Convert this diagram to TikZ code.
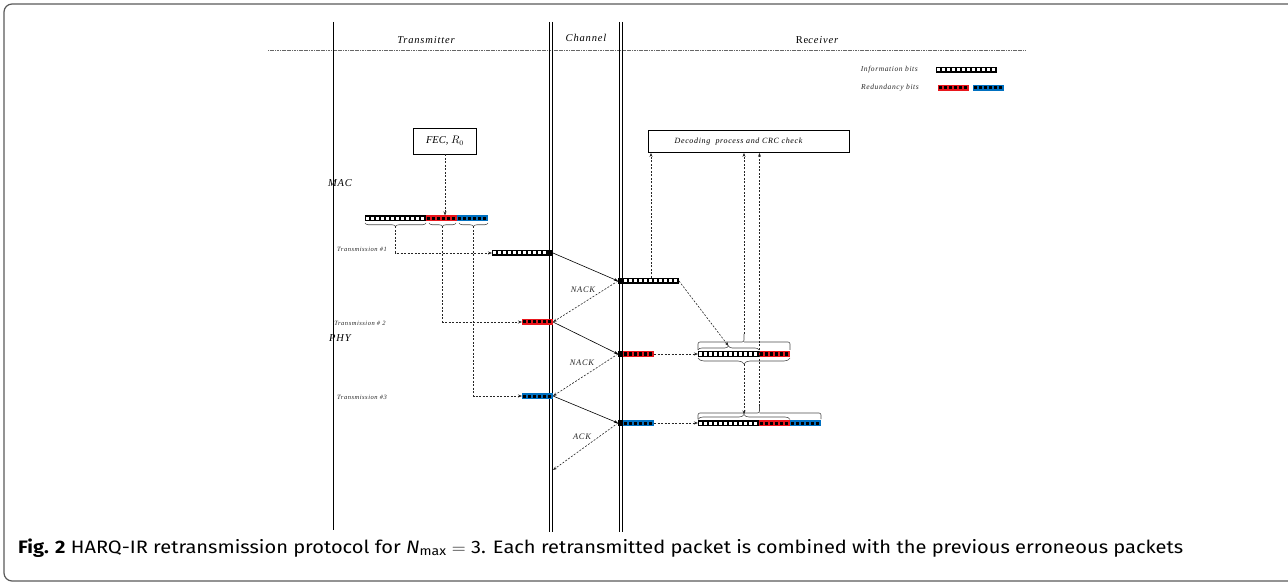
\documentclass[tikz,border=0pt]{standalone}
\usepackage{fontspec}
\setmainfont{Liberation Serif}
\newfontfamily\capfont{Fira Sans}
\newfontfamily\lblfont[LetterSpace=8]{Liberation Serif}
\usetikzlibrary{positioning, arrows.meta, decorations.pathreplacing, calc}
\definecolor{pktred}{RGB}{232,22,28}
\definecolor{pktblue}{RGB}{0,112,192}

\begin{document}
\begin{tikzpicture}[x=1pt, y=-1pt,
        bitbar/.style n args={3}{rectangle, inner sep=0pt, outer sep=0pt,
            minimum height=6pt, minimum width=#3*5pt+1pt, fill=#1,
            path picture={\foreach \k in {1,...,#3} {
                \fill[#2] ([xshift=\k*5pt-4pt, yshift=1.5pt]path picture bounding box.south west) rectangle ++(3.2pt,3pt);}}},
        infobits/.style={bitbar={black}{white}{#1}},
        redbits/.style={bitbar={pktred}{black}{#1}},
        bluebits/.style={bitbar={pktblue}{black}{#1}},
        headbit/.style={rectangle, inner sep=0pt, outer sep=0pt, minimum width=5pt, minimum height=6pt, fill=black},
        lbl/.style={font=\lblfont\itshape\fontsize{7.5}{9}\selectfont, inner sep=1pt, text=black!85},
        hdr/.style={font=\lblfont\itshape\fontsize{10.5}{12}\selectfont, inner sep=1pt},
        box/.style={draw, line width=0.8pt, inner sep=0pt},
        lane/.style={line width=1pt},
        sig/.style={-{Stealth[length=4pt,width=3pt]}, line width=0.6pt},
        dsig/.style={sig, dash pattern=on 2pt off 1.5pt, black!85},
        brc/.style={decorate, decoration={brace, amplitude=#1}, gray!60!black, line width=0.6pt},
        brk/.style={gray!60!black, line width=0.6pt, rounded corners=2pt}
    ]

    \useasboundingbox (0,0) rectangle (1288,585);
    % figure frame
    \draw[gray!70!black, line width=1.2pt, rounded corners=8pt] (4,4) rectangle (1300,581);

    % lanes
    \draw[gray!80!black, line width=0.6pt, dash pattern=on 1.2pt off 0.5pt] (268,50) -- (1025,50);
    \draw[lane] (333,22) -- (333,530);
    \draw[lane] (549,22) -- (549,532);
    \draw[lane] (552.5,22) -- (552.5,532);
    \draw[lane] (619,22) -- (619,532);
    \draw[lane] (622.5,22) -- (622.5,532);

    \node[hdr] (txlbl) at (426,40) {Transmitter};
    \node[hdr] (chlbl) at (586,38) {Channel};
    \node[hdr] (rxlbl) at (817,40) {{\upshape Re}ceiver};
    \node[hdr] (mac) at (340,183) {MAC};
    \node[hdr] (phy) at (340,338) {PHY};

    % legend
    \node[lbl, anchor=east] (leginfo) at (919,70) {Information bits};
    \node[lbl, anchor=east] (legred) at (920,88) {Redundancy bits};
    \node[infobits=12, anchor=west] (legI) at (936,70) {};
    \node[redbits=6, anchor=west] (legR) at (938,88) {};
    \node[bluebits=6, right=4pt of legR] (legB) {};

    % MAC blocks
    \node[box, minimum width=63pt, minimum height=26pt, font=\itshape\fontsize{10.5}{12}\selectfont] (fec) at (445,141) {FEC, $R_0$};
    \node[box, minimum width=201pt, minimum height=22pt, font=\lblfont\itshape\fontsize{8}{10}\selectfont] (dec) at (748.5,141.5) {\hspace*{-20pt}Decoding~ process and CRC check};

    % mother code word
    \node[infobits=12, anchor=west] (srcI) at (365,218.5) {};
    \node[redbits=6, right=0pt of srcI] (srcR) {};
    \node[bluebits=6, right=0pt of srcR] (srcB) {};
    \draw[brc=3.5pt] ([yshift=-1.5pt]srcI.south east) -- ([yshift=-1.5pt]srcI.south west);
    \draw[brc=3.5pt] ([yshift=-1.5pt,xshift=-1pt]srcR.south east) -- ([yshift=-1.5pt,xshift=3pt]srcR.south west);
    \draw[brc=3.5pt] ([yshift=-1.5pt]srcB.south east) -- ([yshift=-1.5pt,xshift=2pt]srcB.south west);
    \coordinate (bI) at ([yshift=-5pt]srcI.south);
    \coordinate (bR) at ([yshift=-5pt,xshift=1pt]srcR.south);
    \coordinate (bB) at ([yshift=-5pt,xshift=1pt]srcB.south);

    % transmissions
    \node[infobits=11, anchor=east] (tx1) at (548,253) {};
    \node[headbit, right=0pt of tx1] (tx1e) {};
    \node[redbits=6, anchor=east] (tx2) at (553,322) {};
    \node[bluebits=6, anchor=east] (tx3) at (553,396) {};
    \node[lbl, font=\lblfont\itshape\fontsize{6.5}{8}\selectfont] (t1lbl) at (362,249) {Transmission \#1};
    \node[lbl, font=\lblfont\itshape\fontsize{6.5}{8}\selectfont] (t2lbl) at (360,323) {Transmission \# 2};
    \node[lbl, font=\lblfont\itshape\fontsize{6.5}{8}\selectfont] (t3lbl) at (362,397) {Transmission \#3};

    % received packets
    \node[headbit, anchor=west] (rx1h) at (618,281) {};
    \node[infobits=11, right=0pt of rx1h] (rx1) {};
    \node[headbit, anchor=west] (rx2h) at (618,354) {};
    \node[redbits=6, right=0pt of rx2h] (rx2) {};
    \node[headbit, anchor=west] (rx3h) at (618,423) {};
    \node[bluebits=6, right=0pt of rx3h] (rx3) {};
    \coordinate (ack) at (553,470);

    % combined packets
    \node[infobits=12, anchor=west] (cb2I) at (698,354) {};
    \node[redbits=6, right=0pt of cb2I] (cb2R) {};
    \node[infobits=12, anchor=west] (cb3I) at (698,423) {};
    \node[redbits=6, right=0pt of cb3I] (cb3R) {};
    \node[bluebits=6, right=0pt of cb3R] (cb3B) {};

    % braces on the combined packets
    \draw[brc=4pt] ([yshift=1pt]cb2I.north west) -- ([yshift=1pt]cb2I.north east);
    \coordinate (t2s) at ([yshift=5pt]cb2I.north);
    \coordinate (t2l) at ($(cb2I.north west)!0.5!(cb2R.north east) + (0,-17)$);
    \draw[brk] ([yshift=1pt]cb2I.north west) |- ($(t2l)+(0,8)$) -- (t2l) ($(t2l)+(0,8)$) -| ([yshift=1pt]cb2R.north east);
    \draw[brc=6pt] ([yshift=-1pt]cb2R.south east) -- ([yshift=-1pt]cb2I.south west);
    \coordinate (t2b) at ($(cb2I.south west)!0.5!(cb2R.south east) + (0,7)$);
    \draw[brc=5pt] ([yshift=0.5pt]cb3I.north west) -- ([yshift=0.5pt]cb3R.north east);
    \coordinate (t3s) at ($(cb3I.north west)!0.5!(cb3R.north east) + (0,-5.5)$);
    \coordinate (t3l) at ($(cb3I.north west)!0.5!(cb3B.north east) + (0,-14)$);
    \draw[brk] ([yshift=1pt]cb3I.north west) |- ($(t3l)+(0,7)$) -- (t3l) ($(t3l)+(0,7)$) -| ([yshift=1pt]cb3B.north east);

    % transmitter side
    \draw[dsig] (fec.south) -- (fec.south |- srcR.north);
    \draw[dsig] (bI) |- (tx1.west);
    \draw[dsig] (bR) |- (tx2.west);
    \draw[dsig] (bB) |- (tx3.west);

    % over the channel
    \draw[sig] (tx1e.east) -- (rx1h.west);
    \draw[dsig] (rx1h.west) -- (tx2.east);
    \draw[sig] (tx2.east) -- (rx2h.west);
    \draw[dsig] (rx2h.west) -- (tx3.east);
    \draw[sig] (tx3.east) -- (rx3h.west);
    \draw[dsig] (rx3h.west) -- (ack);
    \node[lbl, font=\lblfont\itshape\fontsize{8.5}{10}\selectfont] (nack1) at (583,290) {NACK};
    \node[lbl, font=\lblfont\itshape\fontsize{8.5}{10}\selectfont] (nack2) at (582,363) {NACK};
    \node[lbl, font=\lblfont\itshape\fontsize{8.5}{10}\selectfont] (ackl) at (582,437) {ACK};

    % receiver side
    \draw[dsig] (rx1.north) -- (rx1.north |- dec.south);
    \draw[dsig] (rx1.east) -- (t2s);
    \draw[dsig] (rx2.east) -- (cb2I.west);
    \draw[dsig] (rx3.east) -- (cb3I.west);
    \draw[dsig] (t2l) -- (t2l |- dec.south);
    \draw[dsig] (t2b) -- (t3s);
    \draw[dsig] (t3l) -- (t3l |- dec.south);

    % caption
    \node[anchor=base west, inner sep=0pt] (cap) at (18,553) {\resizebox{1165pt}{\height}{\capfont\fontsize{18}{20}\selectfont\textbf{Fig. 2} HARQ-IR retransmission protocol for \textit{N}\textsubscript{max}~$=$~3. Each retransmitted packet is combined with the previous erroneous packets}};
\end{tikzpicture}
\end{document}
